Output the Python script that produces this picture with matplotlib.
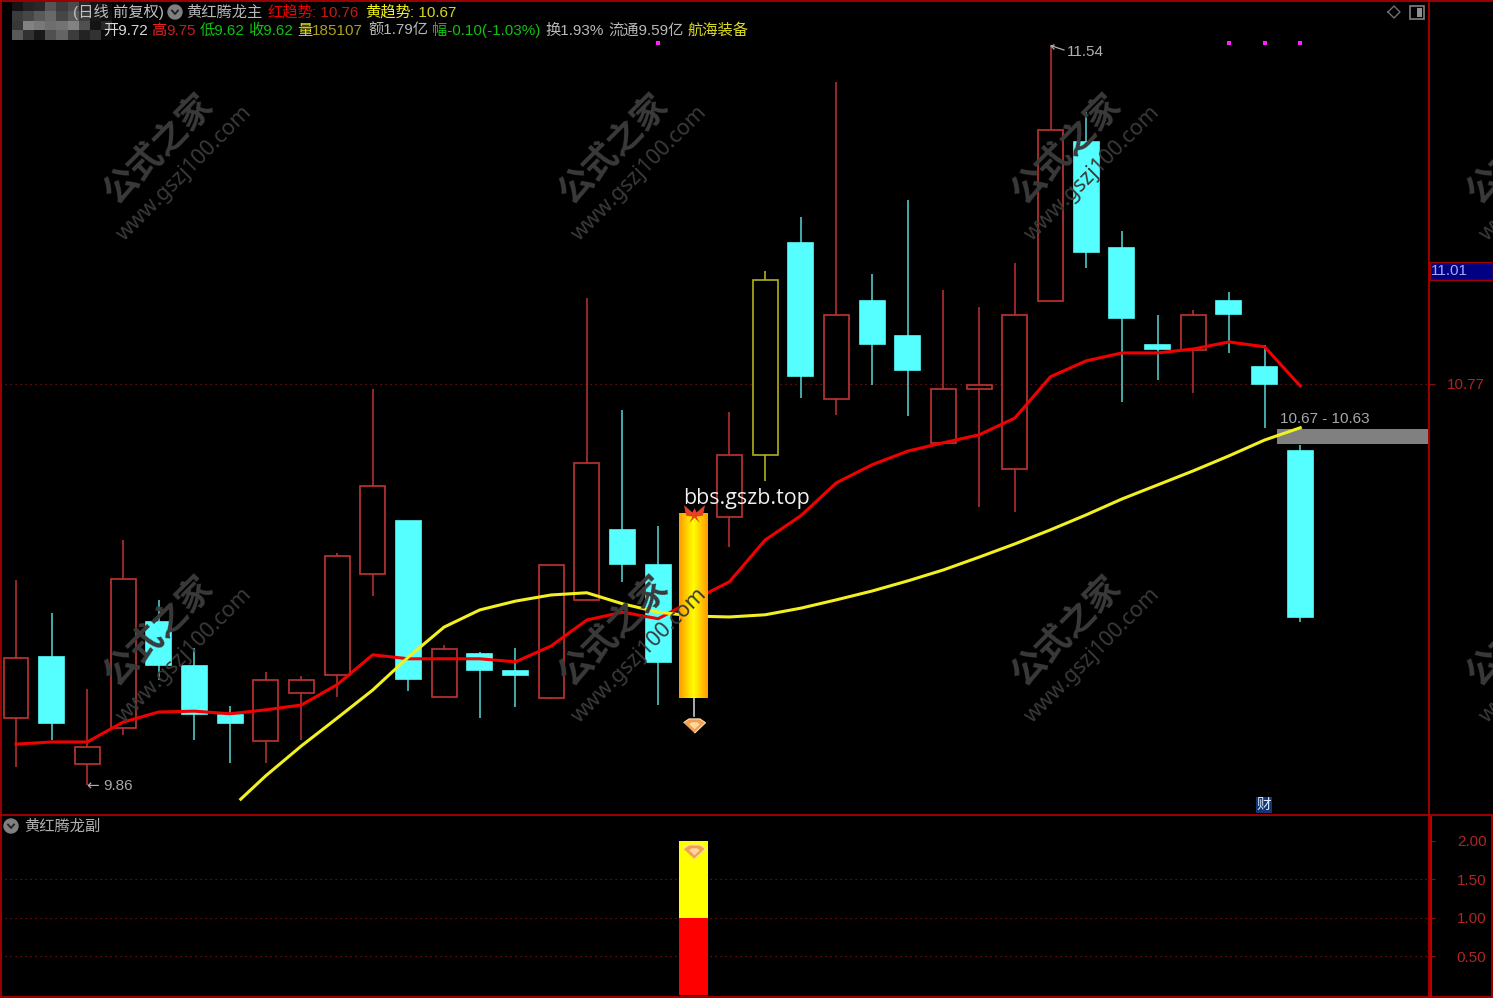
import matplotlib
matplotlib.use("Agg")
import matplotlib.pyplot as plt
import numpy as np
from matplotlib.colors import LinearSegmentedColormap
from matplotlib.patches import Circle, Rectangle

plt.rcParams["font.family"] = ["Liberation Sans", "Noto Sans CJK SC", "DejaVu Sans"]

# daily candles
opens = [10.010, 10.149, 9.906, 9.988, 10.229, 10.129, 10.017, 9.958, 10.067, 10.108, 10.338, 10.458, 10.058,
         10.156, 10.117, 10.056, 10.279, 10.438, 10.358, 10.056, 10.467, 10.608, 11.090, 10.736, 10.958, 10.879,
         10.636, 10.758, 10.576, 10.958, 11.320, 11.079, 10.858, 10.847, 10.958, 10.808, 10.617]
closes = [10.147, 9.999, 9.945, 10.326, 10.131, 10.020, 9.999, 10.097, 10.097, 10.379, 10.538, 10.099, 10.167,
          10.120, 10.108, 10.358, 10.590, 10.360, 10.138, 10.476, 10.608, 11.006, 10.788, 10.926, 10.861, 10.801,
          10.758, 10.767, 10.926, 11.347, 11.070, 10.920, 10.849, 10.926, 10.929, 10.770, 10.240]
highs = [10.324, 10.249, 10.076, 10.415, 10.279, 10.170, 10.038, 10.115, 10.106, 10.386, 10.758, 10.458, 10.176,
         10.160, 10.170, 10.358, 10.965, 10.710, 10.447, 10.476, 10.706, 11.026, 11.149, 11.456, 11.020, 11.188,
         10.983, 10.945, 11.045, 11.540, 11.388, 11.117, 10.926, 10.938, 10.979, 10.858, 10.631]
lows = [9.899, 9.961, 9.858, 9.972, 10.097, 9.961, 9.908, 9.908, 9.961, 10.058, 10.288, 10.072, 10.058,
        10.010, 10.035, 10.054, 10.279, 10.320, 10.040, 10.015, 10.399, 10.549, 10.738, 10.699, 10.767, 10.697,
        10.636, 10.490, 10.479, 10.958, 11.033, 10.729, 10.779, 10.749, 10.840, 10.670, 10.229]

red_trend = [9.951, 9.956, 9.956, 10.001, 10.024, 10.026, 10.020, 10.029, 10.040, 10.086, 10.154, 10.145, 10.145,
             10.145, 10.138, 10.174, 10.233, 10.251, 10.236, 10.279, 10.320, 10.415, 10.470, 10.545, 10.586,
             10.617, 10.636, 10.654, 10.692, 10.786, 10.822, 10.840, 10.840, 10.849, 10.865, 10.854, 10.765]
yellow_days = [6.3, 7, 8, 9, 10, 11, 12, 13, 14, 15, 16, 17, 18, 19, 20, 21, 22, 23, 24, 25, 26, 27, 28, 29, 30,
               31, 32, 33, 34, 35, 36]
yellow_trend = [9.826, 9.879, 9.947, 10.010, 10.074, 10.149, 10.217, 10.256, 10.276, 10.290, 10.295, 10.270,
                10.251, 10.242, 10.240, 10.245, 10.260, 10.279, 10.299, 10.322, 10.347, 10.376, 10.406, 10.438,
                10.472, 10.508, 10.540, 10.572, 10.606, 10.642, 10.670]

gold_day = 19
yellow_day = 21
signal_days = [18, 34, 35, 36]
band_low, band_high = 10.633, 10.667
last_price = 10.77

sub_bottom = [1.0]
sub_top = [1.0]
sub_ticks = [0.5, 1.0, 1.5, 2.0]

mosaic = [[20, 35, 40, 85, 60, 75, 40, 20, 10],
          [60, 70, 90, 105, 70, 90, 60, 25, 15],
          [55, 130, 120, 110, 115, 130, 80, 20, 40],
          [90, 50, 25, 80, 100, 60, 35, 50, 10]]

W, H = 1493, 998
RED_DIM = "#b03030"
BORDER = "#a00000"
AXIS_TEXT = "#b02424"
CYAN = "#55ffff"
CYAN_WICK = "#50c8c8"
GEM = [(-1, 0.25), (-0.5, 0.6), (0.5, 0.6), (1, 0.25), (0, -0.7)]
BUTTERFLY = [(-1, 0.8), (-0.2, 0.1), (0, 0.5), (0.2, 0.1), (1, 0.8), (0.8, -0.2), (0.2, -0.3), (0.5, -0.9),
             (0, -0.4), (-0.5, -0.9), (-0.2, -0.3), (-0.8, -0.2)]


def draw_gem(target, x, y):
    target.scatter([x], [y], marker=GEM, s=250, c="#f0a050", ec="#ffe0b8", lw=0.8, zorder=6)
    target.scatter([x], [y], marker=GEM, s=60, c="#ffd8a0", lw=0, zorder=7)


fig = plt.figure(figsize=(W / 100, H / 100), dpi=100, facecolor="black")
ax = fig.add_axes([0, 1 - 815 / H, 1429 / W, 815 / H], facecolor="black")
sub = fig.add_axes([0, 2 / H, 1429 / W, 181 / H], facecolor="black")

# main panel
ax.axhline(last_price, color="#8a1010", lw=0.9, ls=(0, (1, 3)), zorder=1)
ax.add_patch(Rectangle((35.35, band_low), 5, band_high - band_low, color="#808080", lw=0, zorder=2))

for i, (o, c, h, l) in enumerate(zip(opens, closes, highs, lows)):
    top_price, bot_price = max(o, c), min(o, c)
    if i == gold_day:
        ax.plot([i, i], [bot_price, l], color="#c8c8c8", lw=1.2, zorder=2)
        continue
    if c < o:
        edge, wick, face = CYAN, CYAN_WICK, CYAN
    elif i == yellow_day:
        edge, wick, face = "#b0b020", "#b0b020", "black"
    else:
        edge, wick, face = "#c03434", RED_DIM, "black"
    ax.plot([i, i], [top_price, h], color=wick, lw=1.2, zorder=2, solid_capstyle="butt")
    ax.plot([i, i], [bot_price, l], color=wick, lw=1.2, zorder=2, solid_capstyle="butt")
    ax.add_patch(Rectangle((i - 0.35, bot_price), 0.70, top_price - bot_price, fc=face, ec=edge, lw=1.2, zorder=3))

ax.plot(range(len(red_trend)), red_trend, color="#f00000", lw=2.2, zorder=4)
ax.plot(yellow_days, yellow_trend, color="#f2f020", lw=2.2, zorder=4)

gold_map = LinearSegmentedColormap.from_list("gold", ["#ff9c00", "#ffff00", "#ff9c00"])
ax.imshow(np.linspace(0, 1, 40).reshape(1, -1), cmap=gold_map, aspect="auto", zorder=5,
          extent=(gold_day - 0.405, gold_day + 0.405, opens[gold_day], closes[gold_day]))
ax.scatter([gold_day], [closes[gold_day]], marker=BUTTERFLY, s=230, c="#e84020", lw=0, zorder=6)
draw_gem(ax, gold_day, lows[gold_day] - 0.02)
ax.scatter(signal_days, [11.545] * len(signal_days), marker="s", s=6, c="#ff20ff", lw=0, zorder=6)

ax.set_xlim(-0.4486, 39.61)
ax.set_ylim(9.790, 11.642)
ax.set_xticks([])
ax.yaxis.tick_right()
ax.set_yticks([last_price], labels=["10.77"], color=AXIS_TEXT, fontsize=11)
ax.tick_params(axis="y", length=4, color="#8a1010", pad=9)
for s in ax.spines.values():
    s.set_visible(False)

# lower panel
sub.bar([gold_day], sub_bottom, width=0.81, color="#ff0000", zorder=3)
sub.bar([gold_day], sub_top, bottom=sub_bottom, width=0.81, color="#ffff00", zorder=3)
draw_gem(sub, gold_day, 1.87)
for v in sub_ticks[:3]:
    sub.axhline(v, color="#8a1010", lw=0.9, ls=(0, (1, 3)), zorder=1)
sub.set_xlim(-0.4486, 39.61)
sub.set_ylim(-0.013, 2.335)
sub.set_xticks([])
sub.yaxis.tick_right()
sub.set_yticks(sub_ticks, labels=[f"{v:.2f}" for v in sub_ticks], color=AXIS_TEXT, fontsize=11)
sub.tick_params(axis="y", length=4, color="#8a1010", pad=16)
for s in sub.spines.values():
    s.set_visible(False)

# overlay in pixels: frame, header, watermarks
top = fig.add_axes([0, 0, 1, 1], facecolor="none")

top.imshow(mosaic, cmap="gray", vmin=0, vmax=255, extent=(12, 112, 40, 2), aspect="auto",
           interpolation="nearest", zorder=1)
top.set_xlim(0, W)
top.set_ylim(H, 0)
top.axis("off")

for (x0, y0, x1, y1) in [(1, 0, 1, H), (0, 1, W, 1), (1429, 0, 1429, H), (0, 815, W, 815), (1, 997, W, 997),
                         (W - 1, 815, W - 1, H)]:
    top.plot([x0, x1], [y0, y1], color=BORDER, lw=1.4, zorder=2)
top.plot([1431, 1431], [817, H], color="#c00000", lw=1.4, zorder=2)
top.add_patch(Rectangle((1430, 262), 63, 18, fc="#000080", ec=BORDER, lw=1, zorder=2))
top.text(1431, 271, "11.01", color="#a8a8ff", fontsize=11, va="center", zorder=3)

header = [(73, 17, "(日线 前复权)", "#c0c0c0"), (186, 17, "黄红腾龙主", "#b8b8b8"),
          (267, 17, "红趋势", "#f00000"), (312, 17, ": 10.76", "#c81818"),
          (365, 17, "黄趋势", "#f0f020"), (410, 17, ": 10.67", "#d8d820"),
          (103, 35, "开9.72", "#d8d8d8"), (151, 35, "高", "#f02020"), (166, 35, "9.75", "#c02020"),
          (200, 35, "低9.62", "#10c010"), (248, 35, "收9.62", "#10c010"),
          (297, 35, "量", "#e0e020"), (312, 35, "185107", "#b0a020"),
          (368, 35, "额1.79亿", "#b8b8b8"), (432, 35, "幅-0.10(-1.03%)", "#10c010"),
          (545, 35, "换1.93%", "#b8b8b8"), (608, 35, "流通9.59亿", "#b8b8b8"),
          (687, 35, "航海装备", "#d8d820"), (24, 831, "黄红腾龙副", "#b0b0b0")]
for x, y, s, col in header:
    top.text(x, y, s, color=col, fontsize=11, va="baseline", zorder=3)
for x, y in [(175, 12), (11, 826)]:
    top.add_patch(Circle((x, y), 7, color="#808080", zorder=3))
    top.plot([x - 3, x, x + 3], [y - 1.5, y + 2, y - 1.5], color="#202020", lw=1.3, zorder=4)

top.plot([1388, 1394, 1400, 1394, 1388], [12, 6, 12, 18, 12], color="#707070", lw=1, zorder=3)
top.add_patch(Rectangle((1410, 6), 14, 13, fc="black", ec="#808080", lw=1.2, zorder=3))
top.add_patch(Rectangle((1417, 8), 5, 9, fc="#909090", lw=0, zorder=4))

top.text(683, 498, "bbs.gszb.top", color="#f0f0f0", fontsize=15.4, va="center", family="Open Sans", zorder=8)
top.text(1280, 419, "10.67 - 10.63", color="#a8a8a8", fontsize=11, va="center", zorder=8)
top.plot([1052, 1064], [46, 50], color="#b0b0b0", lw=0.9, zorder=8)
top.plot([1054, 1051, 1054], [45, 46, 49], color="#b0b0b0", lw=0.9, zorder=8)
top.text(1067, 52, "11.54", color="#b0b0b0", fontsize=11, va="center", zorder=8)
top.text(86, 786, "←", color="#b0b0b0", fontsize=11, va="center", family="DejaVu Sans", zorder=8)
top.text(103, 786, "9.86", color="#a8a8a8", fontsize=11, va="center", zorder=8)
top.text(1264, 805, "财", color="#e0e8ff", fontsize=10.5, va="center", ha="center", zorder=8,
         bbox=dict(facecolor="#103870", edgecolor="none", pad=0.8))

for cx in [160, 615, 1068, 1523]:
    for cy in [150, 632]:
        top.text(cx, cy, "公式之家", color="#3a3a3a", fontsize=25, fontweight="bold", rotation=45,
                 ha="center", va="center", rotation_mode="anchor", zorder=7)
        top.text(cx + 25, cy + 23, "www.gszj100.com", color="#3a3a3a", fontsize=15.5, fontweight="bold",
                 rotation=45, ha="center", va="center", rotation_mode="anchor", family="Noto Sans", zorder=7)

fig.savefig("out.png", dpi=100, facecolor="black")
plt.close(fig)
